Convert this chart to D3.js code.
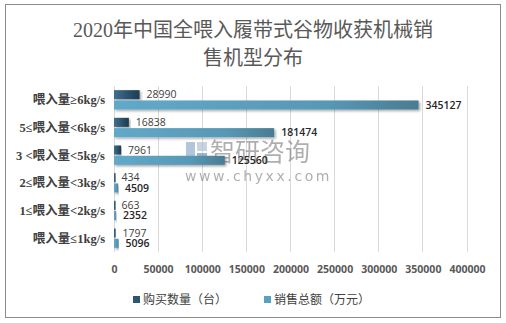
<!DOCTYPE html>
<html><head><meta charset="utf-8">
<script src="https://cdn.jsdelivr.net/npm/d3@7"></script>
<style>
html,body{margin:0;padding:0;background:#fff;}
svg{display:block;}
</style></head>
<body><svg id="c" width="506" height="323"></svg>
<script>
const categories = ["喂入量≥6kg/s","5≤喂入量<6kg/s","3 <喂入量<5kg/s","2≤喂入量<3kg/s","1≤喂入量<2kg/s","喂入量≤1kg/s"];
const buyCount = [28990, 16838, 7961, 434, 663, 1797];
const salesTotal = [345127, 181474, 125560, 4509, 2352, 5096];
const seriesNames = ["购买数量（台）", "销售总额（万元）"];
const xTicks = [0,50000,100000,150000,200000,250000,300000,350000,400000];
const titleLines = ["2020年中国全喂入履带式谷物收获机械销","售机型分布"];

const svg = d3.select("#c");
svg.append("rect").attr("x",5.5).attr("y",4.5).attr("width",495).attr("height",313)
  .attr("fill","#fff").attr("stroke","#8c8c8c").attr("stroke-width",1);

const defs = svg.append("defs");
const g1 = defs.append("linearGradient").attr("id","gDark");
g1.append("stop").attr("offset","0%").attr("stop-color","#3f6f8d");
g1.append("stop").attr("offset","100%").attr("stop-color","#1c3b51");
const g2 = defs.append("linearGradient").attr("id","gLight");
g2.append("stop").attr("offset","0%").attr("stop-color","#62a9c9");
g2.append("stop").attr("offset","70%").attr("stop-color","#5798b5");
g2.append("stop").attr("offset","100%").attr("stop-color","#4a7c91");
const f = defs.append("filter").attr("id","sh").attr("x","-5%").attr("y","-30%").attr("width","115%").attr("height","180%");
f.append("feDropShadow").attr("dx",1.5).attr("dy",1.5).attr("stdDeviation",1).attr("flood-color","#000").attr("flood-opacity",0.35);

// title
titleLines.forEach((t,i)=>{
  svg.append("text").attr("x",253).attr("y",37+i*28).attr("text-anchor","middle")
    .attr("font-family","'Liberation Serif','Noto Sans CJK SC',serif").attr("font-size",20)
    .attr("fill","#595959").text(t);
});

const x = d3.scaleLinear().domain([0,400000]).range([114,467]);
const y = d3.scaleBand().domain(categories).range([86,252]).paddingInner(0.3).paddingOuter(0.15);
const sub = d3.scaleBand().domain([0,1]).range([0,y.bandwidth()]).paddingInner(0.12);

// gridlines
svg.append("g").selectAll("line").data(xTicks).join("line")
  .attr("x1",d=>x(d)).attr("x2",d=>x(d)).attr("y1",86).attr("y2",252)
  .attr("stroke","#d9d9d9").attr("stroke-width",1).attr("shape-rendering","crispEdges");

// axis labels
const xa = svg.append("g").attr("transform","translate(0,252)")
  .call(d3.axisBottom(x).tickValues(xTicks).tickSize(0).tickPadding(14).tickFormat(d3.format("d")));
xa.select(".domain").remove();
xa.selectAll("text").attr("font-family","'Open Sans','DejaVu Sans',sans-serif").attr("font-size",10.5)
  .attr("font-weight","bold").attr("fill","#595959");

// category labels
svg.append("g").selectAll("text").data(categories).join("text")
  .attr("x",105).attr("y",d=>y(d)+y.bandwidth()/2+4.5).attr("text-anchor","end")
  .attr("font-family","'Liberation Serif','Noto Sans CJK SC',serif").attr("font-size",12.5)
  .attr("font-weight","bold").attr("fill","#404040").text(d=>d);

// watermark (behind bars)
const wm = svg.append("g").attr("opacity",0.6);
wm.append("rect").attr("x",186).attr("y",142).attr("width",9).attr("height",18).attr("fill","#7f9fc0");
wm.append("rect").attr("x",197).attr("y",142).attr("width",10).attr("height",9).attr("fill","#a7b9cc");
wm.append("rect").attr("x",197).attr("y",153).attr("width",10).attr("height",7).attr("fill","#5f86b0");
wm.append("text").attr("x",210).attr("y",161).attr("font-family","'Noto Sans CJK SC',sans-serif")
  .attr("font-size",25).attr("fill","#7a7a7a").text("智研咨询");
wm.append("text").attr("x",185).attr("y",181).attr("font-family","'DejaVu Sans',sans-serif")
  .attr("font-size",14).attr("letter-spacing",2.6).attr("fill","#7a7a7a").text("www.chyxx.com");

const series = [
  {vals: buyCount, fill:"url(#gDark)", idx:0, weight:"normal", color:"#404040"},
  {vals: salesTotal, fill:"url(#gLight)", idx:1, weight:"600", color:"#262626"}
];
series.forEach(s=>{
  const gg = svg.append("g");
  gg.selectAll("rect").data(categories).join("rect")
    .attr("x",x(0)).attr("y",(d)=>y(d)+sub(s.idx))
    .attr("width",(d,i)=>Math.max(1.5,x(s.vals[i])-x(0))).attr("height",sub.bandwidth())
    .attr("fill",s.fill).attr("filter","url(#sh)");
  gg.selectAll("text").data(categories).join("text")
    .attr("x",(d,i)=>x(s.vals[i])+7).attr("y",d=>y(d)+sub(s.idx)+sub.bandwidth()/2+3.8)
    .attr("font-family","'Open Sans','DejaVu Sans',sans-serif").attr("font-size",10.5)
    .attr("font-weight",s.weight).attr("fill",s.color).text((d,i)=>s.vals[i]);
});

// legend
const lx = [133, 264];
seriesNames.forEach((n,i)=>{
  svg.append("rect").attr("x",lx[i]).attr("y",296).attr("width",7).attr("height",7)
    .attr("fill", i===0? "#2d5673":"#5aa0c0");
  svg.append("text").attr("x",lx[i]+10).attr("y",304).attr("font-family","'Noto Sans CJK SC',sans-serif")
    .attr("font-size",12).attr("fill","#404040").text(n);
});
</script></body></html>
